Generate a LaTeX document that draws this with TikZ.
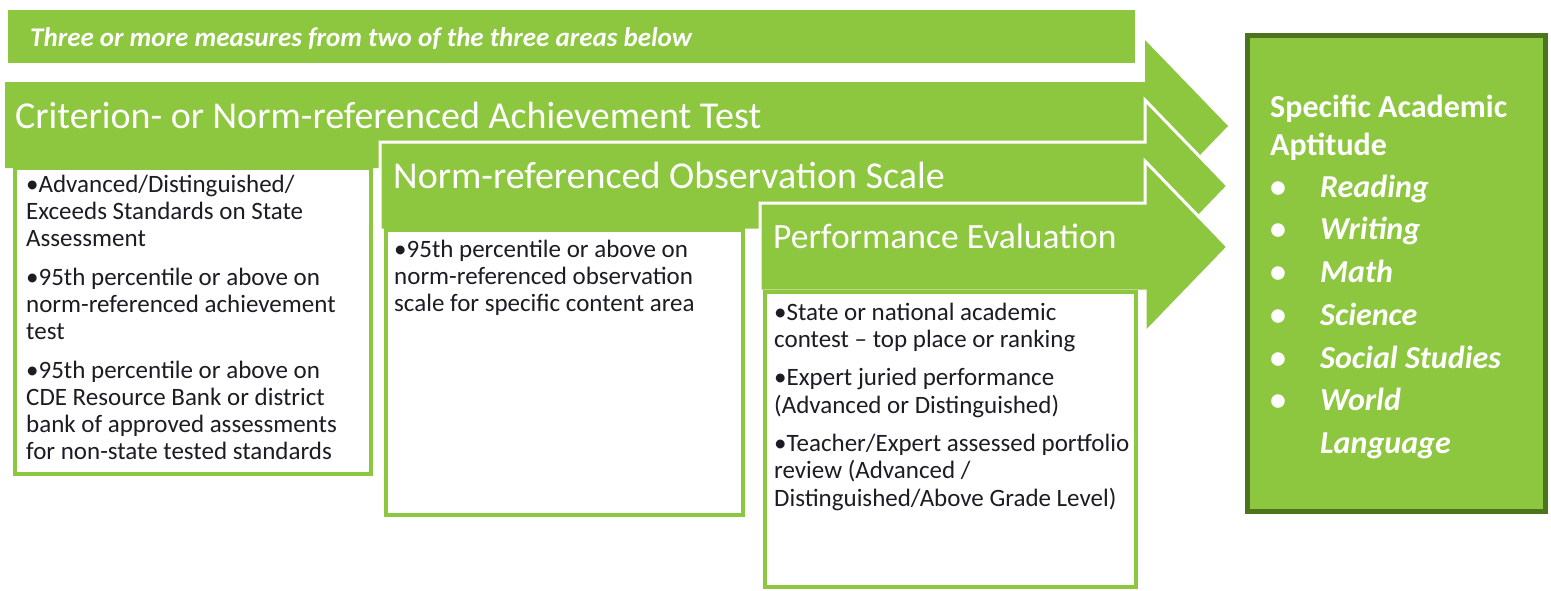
\documentclass[tikz,border=0pt]{standalone}
\usepackage{fontspec}
\setmainfont{Carlito}
\usepackage{xcolor}
\usepackage{tikz}
\usetikzlibrary{positioning}
\definecolor{leaf}{RGB}{141,198,63}
\definecolor{moss}{RGB}{76,116,30}
\definecolor{ink}{RGB}{28,28,36}
\newcommand{\fsz}[2]{\fontsize{#1}{#2}\selectfont}
% fixed first-line height, so a north west anchor puts the first baseline where wanted
\newcommand{\firstline}[1]{\rule{0pt}{#1}}

\begin{document}
\begin{tikzpicture}[
  x=1pt, y=-1pt,
  band/.style={fill=leaf},
  blockarr/.style={fill=leaf, draw=white, line width=3pt, line join=miter},
  card/.style={fill=white, draw=leaf, line width=4pt},
  goal/.style={fill=leaf, draw=moss, line width=5pt},
  head/.style={text=white, font=\fsz{38}{42}, anchor=base west, inner sep=0pt},
  body/.style={text=ink, font=\fsz{25}{27.3}, anchor=north west, inner sep=0pt, align=left},
  goaltxt/.style={text=white, anchor=north west, inner sep=0pt, align=left},
]
\useasboundingbox (0,0) rectangle (1551,590);
% ---------------- banner ----------------
\fill[band] (8,10) rectangle (1135,63);
\node[text=white, font=\fsz{27}{30}\bfseries\itshape, anchor=base west, inner sep=0pt] (note) at (30,46)
  {Three or more measures from two of the three areas below};
% ---------------- (1) achievement test ----------------
\fill[band] (5,82) -- (1145,82) -- (1145,40) -- (1228,126) -- (1145,212) -- (1145,168) -- (5,168) -- cycle;
\draw[card] (15,168) rectangle (371,474);
\node[head] (achv) at (15,128) {Criterion- or Norm-referenced Achievement Test};
\node[body] (achvtxt) at (26,170)
  {\firstline{22pt}•Advanced/Distinguished/\\Exceeds Standards  on State\\Assessment\\[11pt]
   •95th percentile  or above on\\norm-referenced achievement\\test\\[11pt]
   •95th percentile  or above on\\CDE Resource Bank or district\\bank of approved assessments\\for non-state tested standards};
% ---------------- (2) observation scale ----------------
\draw[blockarr] (380,142) -- (1145,142) -- (1145,100) -- (1228,186) -- (1145,272) -- (1145,230) -- (380,230) -- cycle;
\draw[card] (386,230) rectangle (743,515);
\node[head] (obsv) at (393,188) {Norm-referenced Observation Scale};
\node[body] (obsvtxt) at (394,235)
  {\firstline{22pt}•95th percentile  or above on\\norm-referenced observation\\scale for specific content area};
% ---------------- (3) performance ----------------
\draw[blockarr] (760,203) -- (1145,203) -- (1145,161) -- (1228,247) -- (1145,333) -- (1145,291) -- (760,291) -- cycle;
\draw[card] (765,292) rectangle (1136,587);
\node[head, font=\fsz{35.5}{40}] (perf) at (773,248) {Performance Evaluation};
\node[body] (perftxt) at (774,298)
  {\firstline{22pt}•State or national academic\\contest – top place or ranking\\[11pt]
   •Expert juried performance\\(Advanced or Distinguished)\\[11pt]
   •Teacher/Expert assessed portfolio\\review (Advanced /\\Distinguished/Above Grade Level)};
% ---------------- outcome ----------------
\draw[goal] (1247,35) rectangle (1545,511);
\node[goaltxt, font=\fsz{32}{38}\bfseries] (apt) at (1270,89) {\firstline{28pt}Specific Academic\\Aptitude};
\node[goaltxt, font=\fsz{32}{42.7}\bfseries\itshape] (subj) at (1270,169)
  {\firstline{28pt}\makebox[50pt][l]{\upshape•}Reading\\
   \makebox[50pt][l]{\upshape•}Writing\\
   \makebox[50pt][l]{\upshape•}Math\\
   \makebox[50pt][l]{\upshape•}Science\\
   \makebox[50pt][l]{\upshape•}Social Studies\\
   \makebox[50pt][l]{\upshape•}World\\
   \hspace*{50pt}Language};
\end{tikzpicture}
\end{document}
